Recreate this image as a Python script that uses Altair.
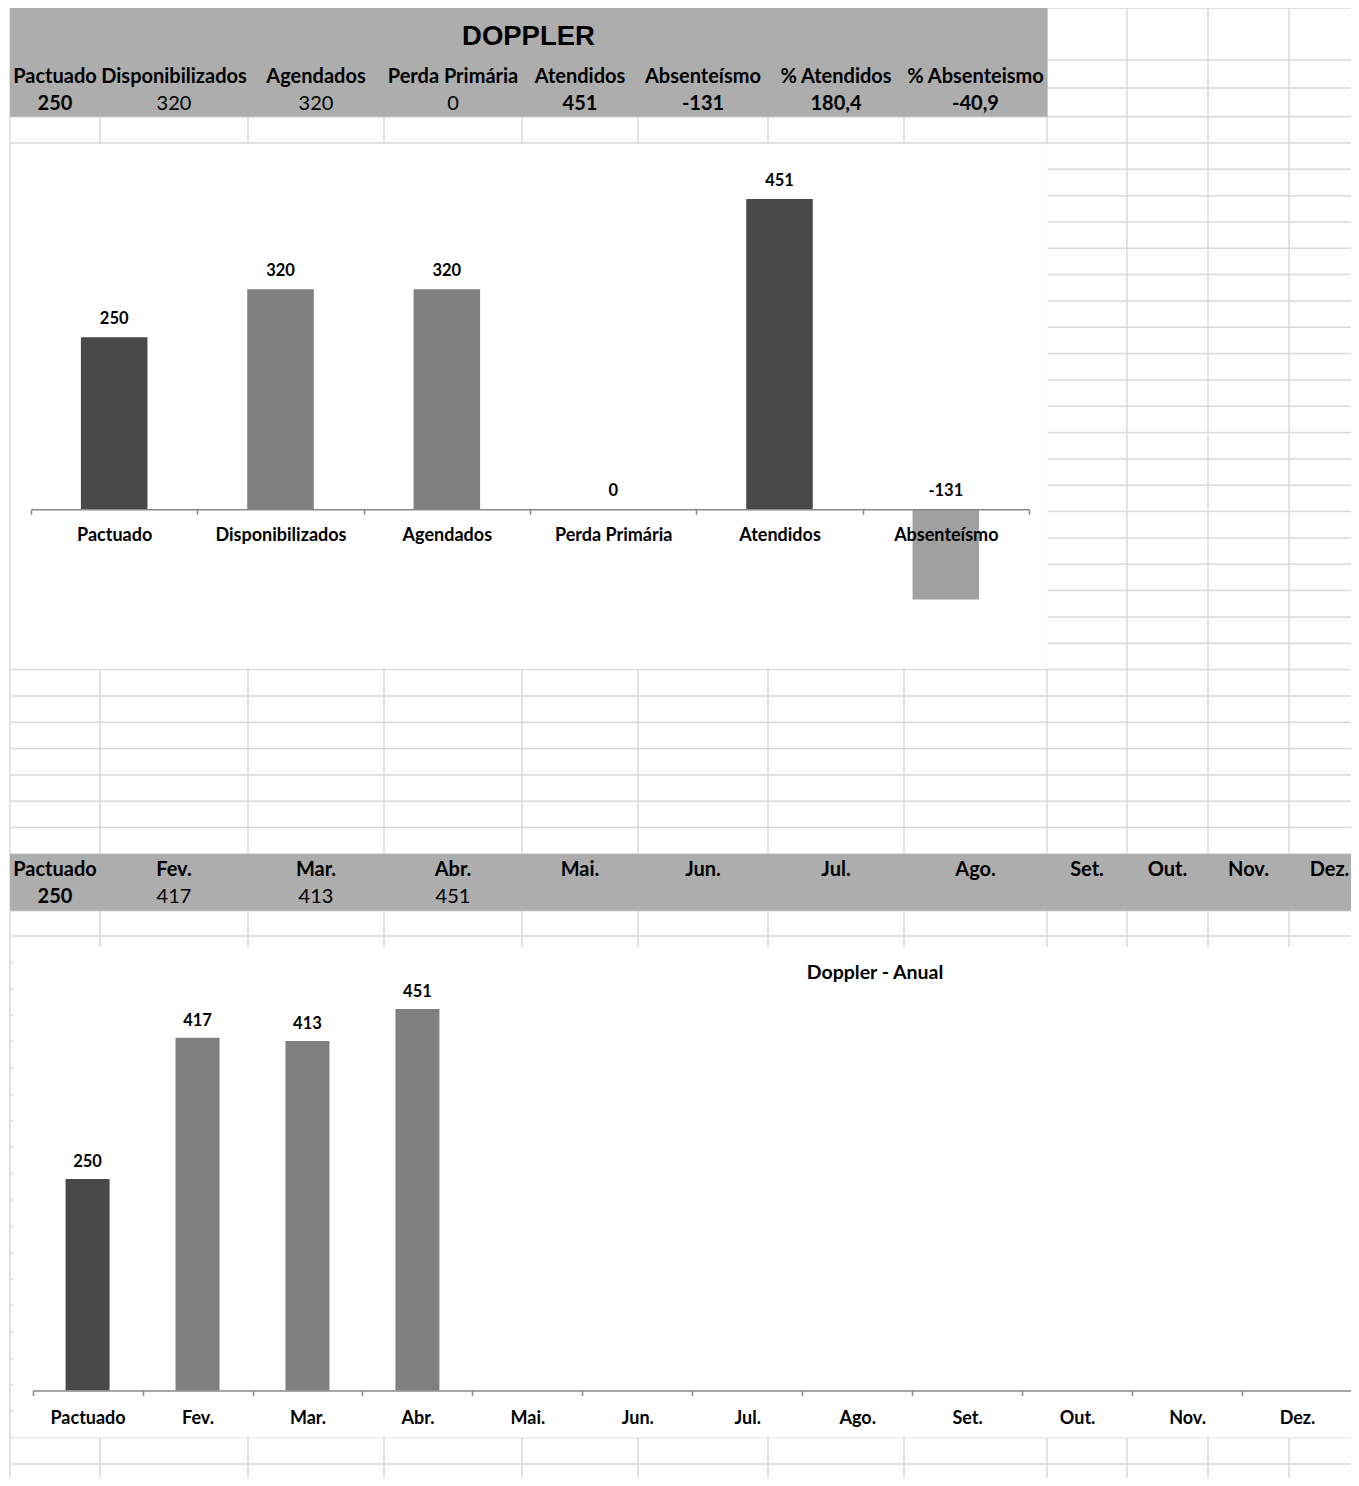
import altair as alt
import pandas as pd

# ------------------------------------------------------------------ data
title = "DOPPLER"
annual_title = "Doppler - Anual"

categories = ["Pactuado", "Disponibilizados", "Agendados", "Perda Primária", "Atendidos", "Absenteísmo"]
values = [250, 320, 320, 0, 451, -131]

summary_labels = ["Pactuado", "Disponibilizados", "Agendados", "Perda Primária",
                  "Atendidos", "Absenteísmo", "% Atendidos", "% Absenteismo"]
summary_values = ["250", "320", "320", "0", "451", "-131", "180,4", "-40,9"]
summary_bold = [True, False, False, False, True, True, True, True]

months = ["Pactuado", "Fev.", "Mar.", "Abr.", "Mai.", "Jun.", "Jul.", "Ago.", "Set.", "Out.", "Nov.", "Dez."]
monthly = [250, 417, 413, 451, None, None, None, None, None, None, None, None]
monthly_bold = [True, False, False, False, False, False, False, False, False, False, False, False]

# ------------------------------------------------------------------ layout (sheet pixels)
W, H = 1343, 1470
OFF = 8
COL_EDGES = [10, 100, 248, 384, 522, 638, 768, 904, 1047, 1127, 1208, 1289, 1370]
ROW_LINES = ([8, 60, 88, 116.7, 143.0]
             + [round(143.0 + 26.33 * k, 1) for k in range(1, 28)]
             + [882, 910.7, 936.0]
             + [round(936.0 + 26.4 * k, 1) for k in range(1, 21)])
CENTERS = [(a + b) / 2 for a, b in zip(COL_EDGES[:-1], COL_EDGES[1:])]

GRID = "#d9d9d9"
HEAD = "#adadad"
DARK, MID, LIGHT = "#494949", "#7f7f7f", "#a0a0a0"
AXIS = "#898989"
FONT = "Lato"
HEAD_SIZE = 20

PX_X = alt.Scale(domain=[OFF, OFF + W], range=[0, W], nice=False, zero=False)
PX_Y = alt.Scale(domain=[OFF, OFF + H], range=[0, H], nice=False, zero=False)


def px(v):
    return v - OFF


# ------------------------------------------------------------------ sheet background
hlines = pd.DataFrame({"y": ROW_LINES, "x": 10, "x2": 1359})
vlines = pd.DataFrame({"x": COL_EDGES[:-1], "y": 8, "y2": 1486})
white_panels = pd.DataFrame({"x": [11, 13], "x2": [1047.8, 1359], "y": [144, 947], "y2": [669, 1437.5]})
gray_panels = pd.DataFrame({"x": [10, 10], "x2": [1047.5, 1359], "y": [8, 854], "y2": [116.7, 910.7]})

h_layer = alt.Chart(hlines).mark_rule(color=GRID, strokeWidth=1.5).encode(
    x=alt.X("x:Q", scale=PX_X, axis=None), x2="x2:Q",
    y=alt.Y("y:Q", scale=PX_Y, axis=None))
v_layer = alt.Chart(vlines).mark_rule(color=GRID, strokeWidth=1.5).encode(
    x=alt.X("x:Q", scale=PX_X, axis=None),
    y=alt.Y("y:Q", scale=PX_Y, axis=None), y2="y2:Q")
white_layer = alt.Chart(white_panels).mark_rect(color="white").encode(
    x=alt.X("x:Q", scale=PX_X, axis=None), x2="x2:Q",
    y=alt.Y("y:Q", scale=PX_Y, axis=None), y2="y2:Q")
gray_layer = alt.Chart(gray_panels).mark_rect(color=HEAD).encode(
    x=alt.X("x:Q", scale=PX_X, axis=None), x2="x2:Q",
    y=alt.Y("y:Q", scale=PX_Y, axis=None), y2="y2:Q")

# ------------------------------------------------------------------ header 1
title_layer = alt.Chart(pd.DataFrame({"t": [title], "x": [528.5]})).mark_text(
    font="Liberation Sans", fontSize=27.5, fontWeight="bold", baseline="alphabetic", color="black"
).encode(x=alt.X("x:Q", scale=PX_X, axis=None), y=alt.value(px(45)), text="t:N")

summary_df = pd.DataFrame({"label": summary_labels, "value": summary_values,
                           "bold": summary_bold, "x": CENTERS[:len(summary_labels)]})
sum_lab = alt.Chart(summary_df).mark_text(
    font=FONT, fontSize=HEAD_SIZE, fontWeight="bold", baseline="alphabetic", color="black"
).encode(x=alt.X("x:Q", scale=PX_X, axis=None), y=alt.value(px(83)), text="label:N")
sum_val_b = alt.Chart(summary_df).transform_filter("datum.bold").mark_text(
    font=FONT, fontSize=HEAD_SIZE, fontWeight="bold", baseline="alphabetic", color="black"
).encode(x=alt.X("x:Q", scale=PX_X, axis=None), y=alt.value(px(110)), text="value:N")
sum_val_n = alt.Chart(summary_df).transform_filter("!datum.bold").mark_text(
    font=FONT, fontSize=HEAD_SIZE, fontWeight="normal", baseline="alphabetic", color="black"
).encode(x=alt.X("x:Q", scale=PX_X, axis=None), y=alt.value(px(110)), text="value:N")

# ------------------------------------------------------------------ header 2
month_df = pd.DataFrame({"m": months, "v": monthly, "bold": monthly_bold, "x": CENTERS[:len(months)]})
month_df["txt"] = [("" if v is None else str(int(v))) for v in monthly]
mon_lab = alt.Chart(month_df).mark_text(
    font=FONT, fontSize=HEAD_SIZE, fontWeight="bold", baseline="alphabetic", color="black"
).encode(x=alt.X("x:Q", scale=PX_X, axis=None), y=alt.value(px(876)), text="m:N")
mon_val_b = alt.Chart(month_df).transform_filter("datum.bold").mark_text(
    font=FONT, fontSize=HEAD_SIZE, fontWeight="bold", baseline="alphabetic", color="black"
).encode(x=alt.X("x:Q", scale=PX_X, axis=None), y=alt.value(px(903.3)), text="txt:N")
mon_val_n = alt.Chart(month_df).transform_filter("!datum.bold").mark_text(
    font=FONT, fontSize=HEAD_SIZE, fontWeight="normal", baseline="alphabetic", color="black"
).encode(x=alt.X("x:Q", scale=PX_X, axis=None), y=alt.value(px(903.3)), text="txt:N")

# ------------------------------------------------------------------ chart 1
C1_X0, C1_X1 = 31, 1029          # axis extent
C1_ZERO, C1_K = 509.3, 0.688     # baseline pixel, px per unit
c1_range_y = [px(C1_ZERO + 200 * C1_K), px(C1_ZERO - 500 * C1_K)]

df1 = pd.DataFrame({"cat": categories, "v": values})
df1["txt"] = [str(v) for v in values]

x1 = alt.X("cat:N", sort=categories, axis=None,
           scale=alt.Scale(type="band", domain=categories, range=[px(C1_X0), px(C1_X1)],
                           paddingInner=0.6, paddingOuter=0.3))
y1 = alt.Y("v:Q", axis=None, scale=alt.Scale(domain=[-200, 500], range=c1_range_y, nice=False))

bars1 = alt.Chart(df1).mark_bar().encode(
    x=x1, y=y1, y2=alt.Y2(datum=0),
    color=alt.Color("cat:N", legend=None,
                    scale=alt.Scale(domain=categories, range=[DARK, MID, MID, MID, DARK, LIGHT])))
lbl1 = alt.Chart(df1).transform_calculate(ypos="max(datum.v, 0)").mark_text(
    font=FONT, fontSize=16.5, fontWeight="bold", baseline="alphabetic", dy=-13.3, color="black"
).encode(x=x1, y=alt.Y("ypos:Q", axis=None,
                       scale=alt.Scale(domain=[-200, 500], range=c1_range_y, nice=False)),
         text="txt:N")


def cat_axis(offset, padding):
    return alt.Axis(orient="bottom", offset=offset, tickBand="extent", title=None, grid=False,
                    domainColor=AXIS, domainWidth=1.5, tickColor=AXIS, tickWidth=1.5, tickSize=5,
                    labelFont=FONT, labelFontSize=18, labelFontWeight="bold", labelColor="black",
                    labelAngle=0, labelBaseline="alphabetic", labelPadding=padding,
                    labelOverlap=False, labelLimit=400, zindex=1)


axis1 = alt.Chart(df1).mark_point(opacity=0).encode(
    x=alt.X("cat:N", sort=categories,
            scale=alt.Scale(type="band", domain=categories, range=[px(C1_X0), px(C1_X1)],
                            paddingInner=0, paddingOuter=0),
            axis=cat_axis(-(H - px(C1_ZERO)), 25.7)),
    y=alt.value(0))

# ------------------------------------------------------------------ chart 2
C2_X0, C2_X1 = 32.6, 1352
C2_ZERO, C2_K = 1390.5, 0.846
c2_range_y = [px(C2_ZERO), px(C2_ZERO - 500 * C2_K)]

df2 = month_df[["m", "v", "txt"]].copy()
x2 = alt.X("m:N", sort=months, axis=None,
           scale=alt.Scale(type="band", domain=months, range=[px(C2_X0), px(C2_X1)],
                           paddingInner=0.6, paddingOuter=0.3))
y2s = alt.Scale(domain=[0, 500], range=c2_range_y, nice=False)

bars2 = alt.Chart(df2).transform_filter("isValid(datum.v)").mark_bar().encode(
    x=x2, y=alt.Y("v:Q", axis=None, scale=y2s), y2=alt.Y2(datum=0),
    color=alt.Color("m:N", legend=None,
                    scale=alt.Scale(domain=months, range=[DARK] + [MID] * (len(months) - 1))))
lbl2 = alt.Chart(df2).transform_filter("isValid(datum.v)").mark_text(
    font=FONT, fontSize=16.5, fontWeight="bold", baseline="alphabetic", dy=-11.8, color="black"
).encode(x=x2, y=alt.Y("v:Q", axis=None, scale=y2s), text="txt:N")

axis2 = alt.Chart(df2).mark_point(opacity=0).encode(
    x=alt.X("m:N", sort=months,
            scale=alt.Scale(type="band", domain=months, range=[px(C2_X0), px(C2_X1)],
                            paddingInner=0, paddingOuter=0),
            axis=cat_axis(-(H - px(C2_ZERO)), 27.5)),
    y=alt.value(0))

title2 = alt.Chart(pd.DataFrame({"t": [annual_title], "x": [875]})).mark_text(
    font=FONT, fontSize=19.5, fontWeight="bold", baseline="alphabetic", color="black"
).encode(x=alt.X("x:Q", scale=PX_X, axis=None), y=alt.value(px(979)), text="t:N")

# ------------------------------------------------------------------ assemble
chart = alt.layer(
    h_layer, v_layer, white_layer, gray_layer,
    title_layer, sum_lab, sum_val_b, sum_val_n,
    mon_lab, mon_val_b, mon_val_n,
    bars1, lbl1, axis1,
    bars2, lbl2, axis2, title2,
).resolve_scale(
    x="independent", y="independent", color="independent"
).resolve_axis(
    x="independent", y="independent"
).properties(
    width=W, height=H, padding=0, autosize=alt.AutoSizeParams(type="none"), background="white"
).configure_view(stroke=None)

chart.save("out.html", embed_options={"renderer": "svg", "actions": False})
